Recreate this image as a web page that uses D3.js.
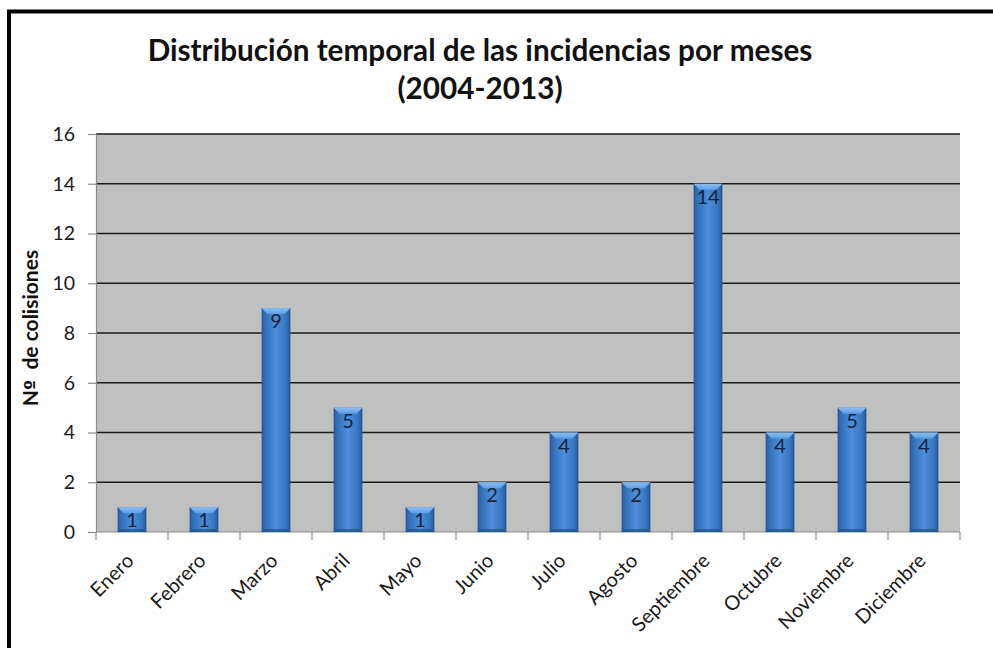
<!DOCTYPE html>
<html><head><meta charset="utf-8">
<script src="https://cdn.jsdelivr.net/npm/d3@7"></script>
<style>body{margin:0;background:#fff;} svg{display:block;}</style>
</head><body>
<svg id="c" width="993" height="648"></svg>
<script>
const months = ["Enero","Febrero","Marzo","Abril","Mayo","Junio","Julio","Agosto","Septiembre","Octubre","Noviembre","Diciembre"];
const values = [1,1,9,5,1,2,4,2,14,4,5,4];
const yTicks = [0,2,4,6,8,10,12,14,16];
const titleLines = ["Distribución temporal de las incidencias por meses","(2004-2013)"];
const yTitleParts = ["N","º","\u00a0 de colisiones"];

const svg = d3.select("#c");
const FONT = "Lato, 'Open Sans', sans-serif";
const m = {left:96, right:960, top:134, bottom:532};

// outer border (continues past right and bottom edges)
svg.append("rect").attr("x",9).attr("y",11.5).attr("width",1000).attr("height",700)
  .attr("fill","#fff").attr("stroke","#000").attr("stroke-width",4);

const x = d3.scaleBand().domain(months).range([m.left,m.right]).paddingInner(0.6).paddingOuter(0.3);
const xb = d3.scaleBand().domain(months).range([m.left,m.right]);
const y = d3.scaleLinear().domain([0,16]).range([m.bottom,m.top]);

const defs = svg.append("defs");
const g1 = defs.append("linearGradient").attr("id","barg").attr("x1","0").attr("x2","1").attr("y1","0").attr("y2","0");
[[0,"#235596"],[0.12,"#3170b8"],[0.5,"#4c8edc"],[0.85,"#3675c0"],[1,"#235494"]].forEach(s=>g1.append("stop").attr("offset",s[0]).attr("stop-color",s[1]));
const g2 = defs.append("linearGradient").attr("id","topg").attr("x1","0").attr("x2","0").attr("y1","0").attr("y2","1");
[[0,"#95c6f6"],[1,"#5e9fe6"]].forEach(s=>g2.append("stop").attr("offset",s[0]).attr("stop-color",s[1]));

// plot background
svg.append("rect").attr("x",m.left).attr("y",m.top).attr("width",m.right-m.left).attr("height",m.bottom-m.top).attr("fill","#c0c0c0");

// gridlines
svg.append("g").selectAll("line").data(yTicks.filter(d=>d>0)).join("line")
  .attr("x1",m.left).attr("x2",m.right).attr("y1",d=>y(d)).attr("y2",d=>y(d))
  .attr("stroke","#1a1a1a").attr("stroke-width",1.5);

// y axis
const yAxis = svg.append("g").attr("transform",`translate(${m.left},0)`)
  .call(d3.axisLeft(y).tickValues(yTicks).tickSize(8).tickPadding(13));
yAxis.select(".domain").attr("stroke","#8a8a8a").attr("stroke-width",1.2);
yAxis.selectAll(".tick line").attr("stroke","#8a8a8a").attr("stroke-width",1.2);
yAxis.selectAll(".tick text").attr("font-family",FONT).attr("font-size",19.5).attr("fill","#1a1a1a");

// x axis
svg.append("line").attr("x1",m.left).attr("x2",m.right).attr("y1",m.bottom).attr("y2",m.bottom).attr("stroke","#8a8a8a").attr("stroke-width",1.2);
const bounds = months.map(d=>xb(d)).concat([m.right]);
svg.append("g").selectAll("line").data(bounds).join("line")
  .attr("x1",d=>d).attr("x2",d=>d).attr("y1",m.bottom).attr("y2",m.bottom+8)
  .attr("stroke","#8a8a8a").attr("stroke-width",1.2);
svg.append("g").selectAll("text").data(months).join("text")
  .attr("transform",d=>`translate(${xb(d)+xb.bandwidth()/2+3},${m.bottom+30}) rotate(-45)`)
  .attr("text-anchor","end").attr("font-family",FONT).attr("font-size",20).attr("fill","#1a1a1a")
  .text(d=>d);

// bars
const bars = svg.append("g").selectAll("g").data(months.map((d,i)=>({m:d,v:values[i]}))).join("g");
bars.append("rect").attr("x",d=>x(d.m)).attr("y",d=>y(d.v)).attr("width",x.bandwidth()).attr("height",d=>y(0)-y(d.v))
  .attr("fill","url(#barg)");
bars.append("path").attr("d",d=>{
  const x0=x(d.m), x1=x0+x.bandwidth(), t=y(d.v), b=6;
  return `M${x0},${t}L${x1},${t}L${x1-b},${t+b}L${x0+b},${t+b}Z`;
}).attr("fill","url(#topg)").attr("opacity",0.9);
bars.append("path").attr("d",d=>{
  const x0=x(d.m), x1=x0+x.bandwidth(), bt=y(0), b=3;
  return `M${x0},${bt}L${x1},${bt}L${x1-b},${bt-b}L${x0+b},${bt-b}Z`;
}).attr("fill","#1a4478").attr("opacity",0.6);
bars.append("text").attr("x",d=>x(d.m)+x.bandwidth()/2).attr("y",d=>y(d.v)+20)
  .attr("text-anchor","middle").attr("font-family",FONT).attr("font-size",20).attr("fill","#18233d")
  .text(d=>d.v);

// title
const t1 = svg.append("text").attr("x",480).attr("y",61).attr("text-anchor","middle")
  .attr("font-family",FONT).attr("font-weight","bold").attr("font-size",23).attr("fill","#111").text(titleLines[0]);
const w = t1.node().getComputedTextLength();
const fs = 23*665/w;
t1.attr("font-size",fs);
svg.append("text").attr("x",480).attr("y",99).attr("text-anchor","middle")
  .attr("font-family",FONT).attr("font-weight","bold").attr("font-size",fs).attr("fill","#111").text(titleLines[1]);

// y title
const yt = svg.append("text").attr("transform",`translate(38,328) rotate(-90)`).attr("text-anchor","middle")
  .attr("font-family",FONT).attr("font-weight","bold").attr("font-size",21).attr("fill","#111");
yt.append("tspan").text(yTitleParts[0]);
yt.append("tspan").attr("font-family","'DejaVu Sans', sans-serif").attr("font-size",18).text(yTitleParts[1]);
yt.append("tspan").text(yTitleParts[2]);
</script>
</body></html>
